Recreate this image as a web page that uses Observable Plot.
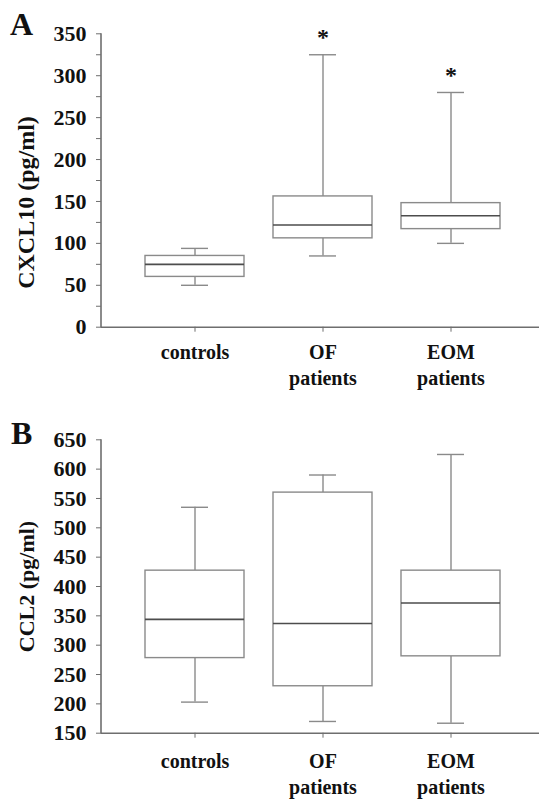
<!DOCTYPE html>
<html>
<head>
<meta charset="utf-8">
<script src="https://cdn.jsdelivr.net/npm/d3@7"></script>
<script src="https://cdn.jsdelivr.net/npm/@observablehq/plot@0.6"></script>
<style>
  body { margin: 0; background: #fff; }
  #wrap { position: relative; width: 539px; height: 799px; overflow: hidden; font-family: "Liberation Serif", "Times New Roman", serif; }
  .panel { position: absolute; left: 0; }
  .panel svg, .panel svg text { font-family: "Liberation Serif", "Times New Roman", serif !important; }
  .letter { position: absolute; font-weight: bold; font-size: 32px; line-height: 1; color: #111; }
</style>
</head>
<body>
<div id="wrap">
  <div id="a" class="panel" style="top:0px"></div>
  <div id="b" class="panel" style="top:400px"></div>
  <div class="letter" style="left:10px; top:8px">A</div>
  <div class="letter" style="left:11px; top:417px">B</div>
</div>
<script>
// ---- data ----
const categories = ["controls", "OF patients", "EOM patients"];
const categoryLabels = ["controls", "OF\npatients", "EOM\npatients"];

// Panel A: CXCL10 (pg/ml)
const cxcl10Low = [50, 85, 100];
const cxcl10Q1 = [60, 106, 117];
const cxcl10Median = [75, 122, 133];
const cxcl10Q3 = [85, 156, 148];
const cxcl10High = [94, 325, 280];
const cxcl10Significant = [false, true, true];
const cxcl10MajorTicks = [0, 50, 100, 150, 200, 250, 300, 350];
const cxcl10MinorTicks = [25, 75, 125, 175, 225, 275, 325];

// Panel B: CCL2 (pg/ml)
const ccl2Low = [203, 170, 167];
const ccl2Q1 = [278, 230, 281];
const ccl2Median = [344, 337, 372];
const ccl2Q3 = [427, 560, 427];
const ccl2High = [535, 590, 625];
const ccl2Significant = [false, false, false];
const ccl2MajorTicks = [150, 200, 250, 300, 350, 400, 450, 500, 550, 600, 650];
const ccl2MinorTicks = [];

const FONT = "'Liberation Serif', 'Times New Roman', serif";
const BOX = "#8a8a8a";
const MED = "#4d4d4d";
const AXIS = "#6e6e6e";
const ML = 101;

function panel(el, cfg) {
  const rows = categories.map((c, i) => ({
    cat: c, low: cfg.low[i], q1: cfg.q1[i], med: cfg.med[i], q3: cfg.q3[i], high: cfg.high[i], star: cfg.stars[i]
  }));
  const marks = [
    Plot.ruleX(rows, {x: "cat", y1: "low", y2: "q1", stroke: BOX, strokeWidth: 1.4}),
    Plot.ruleX(rows, {x: "cat", y1: "q3", y2: "high", stroke: BOX, strokeWidth: 1.4}),
    Plot.tickY(rows, {x: "cat", y: "low", inset: 36, stroke: BOX, strokeWidth: 1.4}),
    Plot.tickY(rows, {x: "cat", y: "high", inset: 36, stroke: BOX, strokeWidth: 1.4}),
    Plot.barY(rows, {x: "cat", y1: "q1", y2: "q3", fill: "white", stroke: BOX, strokeWidth: 1.4}),
    Plot.tickY(rows, {x: "cat", y: "med", stroke: MED, strokeWidth: 1.6}),
    Plot.text(rows.filter(d => d.star), {x: "cat", y: "high", text: () => "*", dy: -17, fontSize: 24, fontWeight: "bold", fill: "#111", fontFamily: FONT}),
    Plot.ruleY([cfg.domain[0]], {stroke: AXIS, strokeWidth: 1.6}),
    Plot.axisY({ticks: cfg.major, tickSize: 5, tickPadding: 10, stroke: AXIS, fill: "#111", fontSize: 22, fontWeight: "bold", fontFamily: FONT, label: null}),
    Plot.axisX({tickSize: 5, tickPadding: cfg.xPad, stroke: AXIS, fill: "#111", fontSize: 20, fontWeight: "bold", fontFamily: FONT, lineHeight: 1.3, label: null,
      tickFormat: d => categoryLabels[categories.indexOf(d)]}),
    Plot.text([cfg.label], {frameAnchor: "left", textAnchor: "middle", rotate: -90, dx: -75, dy: cfg.labelDy, fontSize: cfg.labelSize, fontWeight: "bold", fill: "#111", fontFamily: FONT})
  ];
  if (cfg.minor.length) marks.push(Plot.axisY({ticks: cfg.minor, tickSize: 5, stroke: AXIS, tickFormat: () => "", label: null}));
  const plot = Plot.plot({
    width: 539, height: cfg.height,
    marginLeft: ML, marginRight: 0, marginTop: cfg.mt, marginBottom: cfg.mb,
    style: {fontFamily: FONT, background: "transparent", color: "#111", overflow: "visible"},
    x: {type: "band", domain: categories, range: [129.4, 515.6], paddingInner: 0.23, paddingOuter: 0.115},
    y: {domain: cfg.domain},
    marks
  });
  const [yb, yt] = plot.scale("y").range;
  d3.select(plot).append("line")
    .attr("x1", ML).attr("x2", ML).attr("y1", Math.min(yb, yt)).attr("y2", Math.max(yb, yt) + 0.8)
    .attr("stroke", AXIS).attr("stroke-width", 1.6);
  el.appendChild(plot);
}

panel(document.getElementById("a"), {
  low: cxcl10Low, q1: cxcl10Q1, med: cxcl10Median, q3: cxcl10Q3, high: cxcl10High, stars: cxcl10Significant,
  major: cxcl10MajorTicks, minor: cxcl10MinorTicks, domain: [0, 350],
  label: "CXCL10 (pg/ml)", labelDy: 22, labelSize: 24, height: 400, mt: 33.3, mb: 73.3, xPad: 8
});
panel(document.getElementById("b"), {
  low: ccl2Low, q1: ccl2Q1, med: ccl2Median, q3: ccl2Q3, high: ccl2High, stars: ccl2Significant,
  major: ccl2MajorTicks, minor: ccl2MinorTicks, domain: [150, 650],
  label: "CCL2 (pg/ml)", labelDy: 0, labelSize: 22, height: 399, mt: 39.3, mb: 66.3, xPad: 11
});
</script>
</body>
</html>
